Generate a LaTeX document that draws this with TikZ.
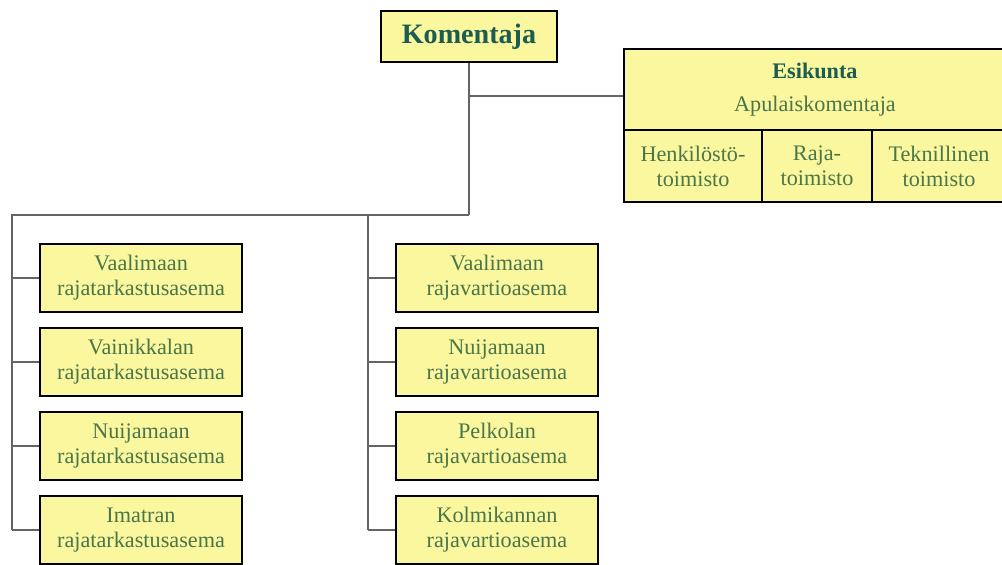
\documentclass[tikz,border=0pt]{standalone}
\usepackage{fontspec}
\setmainfont{Liberation Serif}
\usetikzlibrary{positioning}
\definecolor{boxyellow}{RGB}{250,247,158}
\definecolor{boxtext}{RGB}{74,118,74}
\definecolor{headtext}{RGB}{28,92,82}
\definecolor{linkgray}{RGB}{100,100,100}

\begin{document}
\begin{tikzpicture}[
    unit/.style={draw=black, line width=2pt, fill=boxyellow, text=boxtext, align=center,
      inner sep=0pt, font=\fontsize{15.8}{17.8}\selectfont},
    station/.style={unit, minimum width=5.05cm, minimum height=1.7cm},
    link/.style={draw=linkgray, line width=0.9pt}
  ]
  \useasboundingbox (0,0) rectangle (25.05,-14.125);

  \node[unit, minimum width=4.4cm, minimum height=1.275cm, text=headtext,
    font=\fontsize{20}{24}\selectfont\bfseries] (kom) at (11.725,-0.9125) {Komentaja};

  % esikunta block, right edge runs off the page
  \node[unit, minimum width=9.55cm, minimum height=2.025cm] (esik) at (20.375,-2.2375)
    {{\color{headtext}\bfseries Esikunta}\\[6pt] Apulaiskomentaja};
  \node[unit, minimum width=3.45cm, minimum height=1.8cm] (henk) at (17.325,-4.15)
    {Henkilöstö-\\toimisto};
  \node[unit, minimum width=2.75cm, minimum height=1.8cm] (raja) at (20.425,-4.15)
    {Raja-\\toimisto};
  \node[unit, minimum width=3.35cm, minimum height=1.8cm] (tekn) at (23.475,-4.15)
    {Teknillinen\\toimisto};

  \foreach \i/\y/\name in {1/-6.95/Vaalimaan, 2/-9.05/Vainikkalan, 3/-11.15/Nuijamaan, 4/-13.25/Imatran}
    \node[station] (tark\i) at (3.525,\y) {\name\\rajatarkastusasema};
  \foreach \i/\y/\name in {1/-6.95/Vaalimaan, 2/-9.05/Nuijamaan, 3/-11.15/Pelkolan, 4/-13.25/Kolmikannan}
    \node[station] (vart\i) at (12.425,\y) {\name\\rajavartioasema};

  \coordinate (split) at (11.725,-5.375);
  \coordinate (esjoin) at (11.725,-2.4);
  \coordinate (lefttop) at (0.3,-5.375);
  \coordinate (midtop) at (9.2,-5.375);

  \draw[link] (kom.south) -- (split);
  \draw[link] (esjoin) -- (esik.west |- esjoin);
  \draw[link] (split) -- (lefttop) -- (lefttop |- tark4.west);
  \draw[link] (midtop) -- (midtop |- vart4.west);
  \foreach \i in {1,...,4} {
    \draw[link] (lefttop |- tark\i.west) -- (tark\i.west);
    \draw[link] (midtop |- vart\i.west) -- (vart\i.west);
  }
\end{tikzpicture}
\end{document}
